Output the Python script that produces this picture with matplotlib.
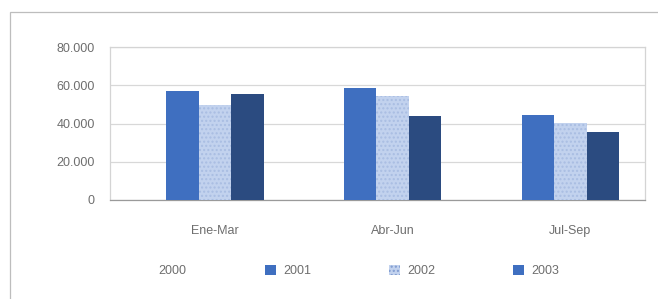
import matplotlib
matplotlib.use("Agg")
import matplotlib.pyplot as plt
import numpy as np
from matplotlib.patches import Patch, Rectangle
from matplotlib.ticker import FuncFormatter

# data
quarters = ["Ene-Mar", "Abr-Jun", "Jul-Sep"]
series_2001 = [56800, 58400, 44700]
series_2002 = [49500, 54200, 40500]
series_2003 = [55300, 43700, 35300]
legend_labels = ["2000", "2001", "2002", "2003"]
y_ticks = [0, 20000, 40000, 60000, 80000]

plt.rcParams["font.family"] = ["Liberation Sans", "DejaVu Sans"]

fig = plt.figure(figsize=(6.58, 2.99), dpi=100)
ax = fig.add_axes([110 / 658, 1 - 200 / 299, 535 / 658, 153 / 299])

x = np.arange(len(quarters))
width = 0.183
ax.bar(x - width, series_2001, width, color="#3f6fc0", zorder=3)
ax.bar(x, series_2002, width, color="#c2d2ee", edgecolor="#a9bde2",
       hatch="....", linewidth=0, zorder=3)
ax.bar(x + width, series_2003, width, color="#2b4b80", zorder=3)

ax.set_xlim(-0.59, 2.42)
ax.set_ylim(0, 80000)
ax.set_yticks(y_ticks)
ax.yaxis.set_major_formatter(FuncFormatter(lambda v, _: f"{int(v):,}".replace(",", ".")))
ax.set_xticks(x)
ax.set_xticklabels(quarters)
ax.tick_params(axis="both", length=0, labelsize=9, colors="#6e6e6e")
ax.tick_params(axis="x", pad=18)
ax.tick_params(axis="y", pad=11)
ax.grid(axis="y", color="#d8d8d8", linewidth=0.9, zorder=0)
for side, spine in ax.spines.items():
    spine.set_color("#d4d4d4")
    spine.set_linewidth(0.9)
ax.spines["bottom"].set_color("#9a9a9a")

handles = [
    Patch(facecolor="none", edgecolor="none"),
    Patch(facecolor="#3f6fc0"),
    Patch(facecolor="#c2d2ee", edgecolor="#7f9bd0", hatch="....", linewidth=0),
    Patch(facecolor="#3f6fc0"),
]
leg = fig.legend(handles, legend_labels, loc="center", bbox_to_anchor=(350 / 658, 1 - 271 / 299),
                 ncol=4, frameon=False, fontsize=9, handlelength=0.85, handleheight=0.85,
                 handletextpad=0.6, columnspacing=6.25)
for text in leg.get_texts():
    text.set_color("#6e6e6e")

# outer frame of the scanned chart
fig.add_artist(Rectangle((10 / 658, -0.1), 1.2, 0.1 + 1 - 12 / 299, transform=fig.transFigure,
                         facecolor="none", edgecolor="#bdbdbd", linewidth=0.9))

fig.savefig("out.png", dpi=100)
